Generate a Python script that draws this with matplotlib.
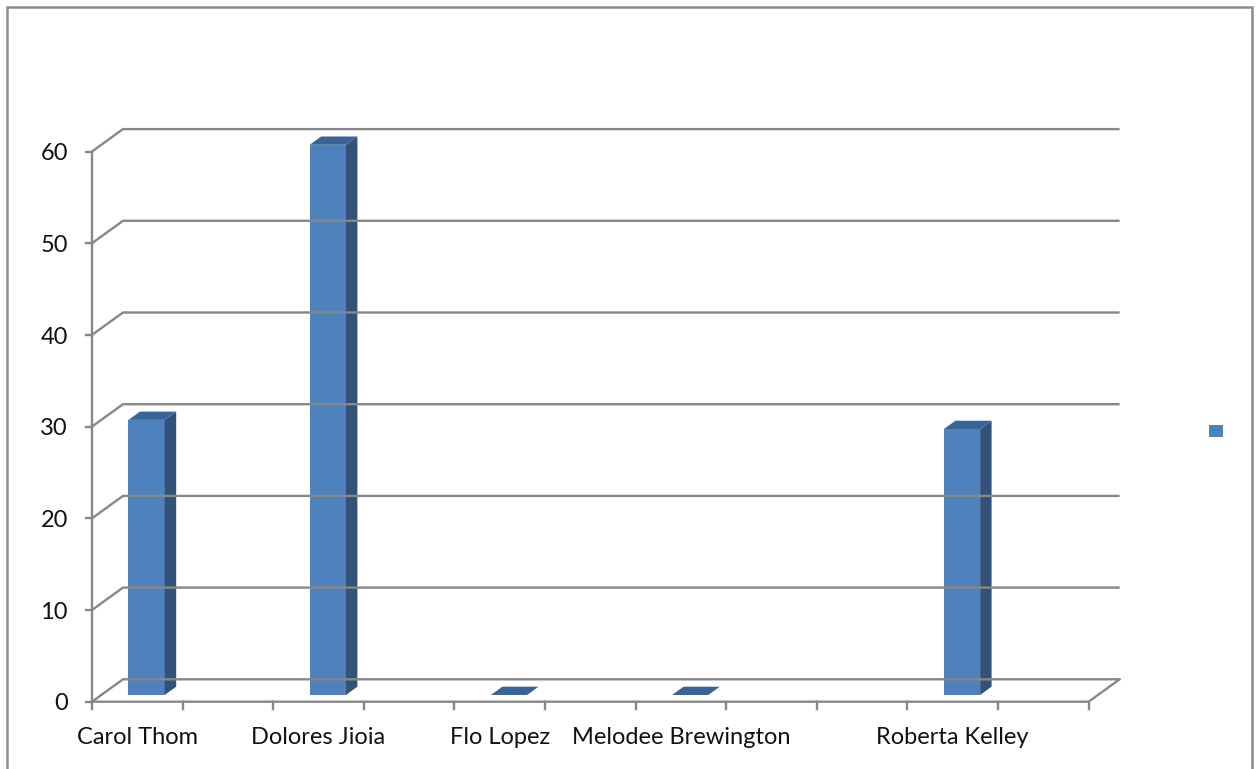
import matplotlib
matplotlib.use("Agg")
import matplotlib.pyplot as plt
import numpy as np
from matplotlib.patches import Polygon, Rectangle, Patch

# Excel-style 3D column chart, drawn with a simple oblique projection
categories = ["Carol Thom", "", "Dolores Jioia", "", "Flo Lopez", "",
              "Melodee Brewington", "", "", "Roberta Kelley", ""]
values = [30, None, 60, None, 0, None, 0, None, None, 29, None]
y_ticks = [0, 10, 20, 30, 40, 50, 60]

FACE = "#4f81bd"
SIDE = "#33527a"
TOP = "#3a6496"
GRID = "#878787"
TXT = "#111111"

W, H = 1257, 769
fig = plt.figure(figsize=(W / 100, H / 100), dpi=100)
ax = fig.add_axes([0, 0, 1, 1])
ax.axis("off")

# pixel mapping: slot 0 starts at x=92, slot width 90.6px; value 0 at y=701.7, 9.17px/unit
x0_px, slot_px = 92.0, 90.6
y0_px, unit_px = 701.7, 9.17
ax.set_xlim(-x0_px / slot_px, (W - x0_px) / slot_px)
ax.set_ylim((y0_px - H) / unit_px, y0_px / unit_px)

n = len(categories)
dx = 31 / slot_px      # depth offset of back wall (x, in slots)
dy = 22.4 / unit_px    # depth offset of back wall (y, in value units)
lw = 1.7

# back wall gridlines + left wall diagonals
for v in y_ticks:
    ax.plot([0, dx, n + dx], [v, v + dy, v + dy], color=GRID, lw=lw,
            solid_capstyle="butt")
# floor
ax.plot([0, n, n + dx], [0, 0, dy], color=GRID, lw=lw)
# vertical value axis and ticks
ax.plot([0, 0], [0, y_ticks[-1]], color=GRID, lw=lw)
for v in y_ticks:
    ax.plot([-0.07, 0], [v, v], color=GRID, lw=lw)
    ax.text(-0.265, v - 0.25, str(v), ha="right", va="center", fontsize=17,
            family="Lato", color=TXT)
# category ticks
for i in range(n + 1):
    ax.plot([i, i], [0, -0.8], color=GRID, lw=lw)
for i, name in enumerate(categories):
    if name:
        ax.text(i + 0.5, -3.85, name, ha="center", va="center", fontsize=17,
                family="Lato", color=TXT)

# bars
w = 0.40
f0, f1 = 0.30, 0.67
for i, v in enumerate(values):
    if v is None:
        continue
    c = i + 0.5
    xl, xr = c - w / 2, c + w / 2
    front = [(xl + f0 * dx, f0 * dy), (xr + f0 * dx, f0 * dy),
             (xr + f0 * dx, v + f0 * dy), (xl + f0 * dx, v + f0 * dy)]
    side = [(xr + f0 * dx, f0 * dy), (xr + f1 * dx, f1 * dy),
            (xr + f1 * dx, v + f1 * dy), (xr + f0 * dx, v + f0 * dy)]
    top = [(xl + f0 * dx, v + f0 * dy), (xr + f0 * dx, v + f0 * dy),
           (xr + f1 * dx, v + f1 * dy), (xl + f1 * dx, v + f1 * dy)]
    if v > 0:
        ax.add_patch(Polygon(front, closed=True, fc=FACE, ec="none"))
        ax.add_patch(Polygon(side, closed=True, fc=SIDE, ec="none"))
    ax.add_patch(Polygon(top, closed=True, fc=TOP, ec="none"))

# legend (series has no name)
fig.legend(handles=[Patch(fc=FACE, ec="none")], labels=[""],
           loc="center", bbox_to_anchor=(1216 / W, 1 - 432 / H),
           frameon=False, handlelength=1.0, handleheight=1.0,
           handletextpad=0, borderpad=0)

# chart area border
fig.patches.append(Rectangle((7 / W, -0.05), (1252 - 7) / W, 1.05 - 7 / H,
                             transform=fig.transFigure, fill=False,
                             ec="#8c8c8c", lw=1.8))

fig.savefig("out.png", dpi=100)
